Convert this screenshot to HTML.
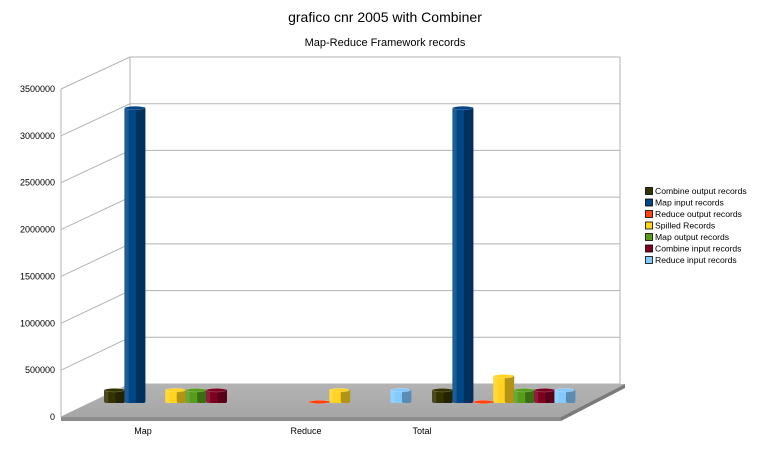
<!DOCTYPE html>
<html><head><meta charset="utf-8"><style>
body{margin:0;background:#fff;}
svg{display:block;font-family:"Liberation Sans",sans-serif;}
</style></head><body>
<svg id="chart" width="771" height="453" viewBox="0 0 771 453">
<defs>
<linearGradient id="floorG" x1="0" y1="0" x2="0" y2="1"><stop offset="0" stop-color="#b3b3b3"/><stop offset="1" stop-color="#a6a6a6"/></linearGradient>
</defs>
<text x="385" y="22" font-size="14" text-anchor="middle" fill="#000">grafico cnr 2005 with Combiner</text>
<text x="385" y="46" font-size="11" text-anchor="middle" fill="#000">Map-Reduce Framework records</text>
<g id="grid"></g>
<polygon points="61,417 130,384 625,384 561,417" fill="url(#floorG)"/>
<polygon points="61,417 561,417 561,421 61,421" fill="#8c8c8c"/>
<polygon points="561,417 625,384 625,388 561,421" fill="#7a7a7a"/>
<g id="ylabels"></g>
<g id="bars"></g>
<g id="xlabels"></g>
<g id="legend"></g>
</svg>
<script>
const categories = ["Map", "Reduce", "Total"];
const seriesNames = ["Combine output records","Map input records","Reduce output records","Spilled Records","Map output records","Combine input records","Reduce input records"];
const seriesColors = ["#333300","#004586","#ff420e","#ffd320","#579d1c","#7e0021","#83caff"];
const combineOutput = [150000, 0, 150000];
const mapInput = [3200000, 0, 3200000];
const reduceOutput = [0, 5000, 5000];
const spilled = [150000, 150000, 300000];
const mapOutput = [150000, 0, 150000];
const combineInput = [150000, 0, 150000];
const reduceInput = [0, 150000, 150000];
const yTicks = [0, 500000, 1000000, 1500000, 2000000, 2500000, 3000000, 3500000];

const series = [combineOutput, mapInput, reduceOutput, spilled, mapOutput, combineInput, reduceInput];
const NS = "http://www.w3.org/2000/svg";
function mk(tag, attrs, parent){const e=document.createElementNS(NS,tag);for(const k in attrs)e.setAttribute(k,attrs[k]);parent.appendChild(e);return e;}
const yMax = 3500000;
function yFront(v){return 417 - v/yMax*328;}
function yBack(v){return 384 - v/yMax*327;}
function barH(v){return v/1000000*92.5;}
function groupX(i){return 104 + i*164;}
const slot = 20.4, barW = 21, base = 403;

const grid = document.getElementById('grid');
mk('line',{x1:61,y1:yFront(yMax),x2:61,y2:417,stroke:'#b3b3b3'},grid);
mk('line',{x1:130,y1:57,x2:130,y2:384,stroke:'#b3b3b3'},grid);
mk('line',{x1:620,y1:57,x2:620,y2:384,stroke:'#b3b3b3'},grid);
const yl = document.getElementById('ylabels');
yTicks.forEach(v=>{
  const gl = mk('line',{x1:130,y1:yBack(v),x2:620,y2:yBack(v),stroke:'#b3b3b3'},grid);
  
  
  mk('line',{x1:61,y1:yFront(v),x2:130,y2:yBack(v),stroke:'#b3b3b3'},grid);
  const t = mk('text',{x:55,y:yFront(v)+3,'font-size':9,'text-anchor':'end',fill:'#000'},yl);
  
  
  t.textContent = v;
});

const bars = document.getElementById('bars');
series.forEach((vals,s)=>{
  vals.forEach((v,c)=>{
    if(v<=0) return;
    const h = Math.max(barH(v),2);
    const x = groupX(c) + s*slot;
    const top = base - h;
    const g = mk('g',{},bars);
    
    
    const col = seriesColors[s];
    mk('rect',{x:x,y:top,width:barW,height:h,rx:2,fill:col},g);
    mk('rect',{x:x+barW*0.55,y:top,width:barW*0.45,height:h,rx:2,fill:'#000','fill-opacity':0.3},g);
    mk('rect',{x:x,y:top,width:barW*0.2,height:h,fill:'#fff','fill-opacity':0.12},g);
    mk('ellipse',{cx:x+barW/2,cy:top+1,rx:barW/2-1,ry:1.8,fill:col,stroke:'#fff','stroke-opacity':0.3,'stroke-width':0.6},g);
  });
});

const xl = document.getElementById('xlabels');
categories.forEach((c,i)=>{
  const t = mk('text',{x:[143,306,422][i],y:434,'font-size':9,'text-anchor':'middle',fill:'#000'},xl);
  
  
  t.textContent = c;
});

const lg = document.getElementById('legend');
seriesNames.forEach((n,i)=>{
  const y = 191 + i*11.5;
  const g = mk('g',{},lg);
  
  
  mk('rect',{x:645.5,y:y-3.5,width:7,height:7,fill:seriesColors[i],stroke:'#000','stroke-width':0.8},g);
  const t = mk('text',{x:655,y:y+3,'font-size':8.6,fill:'#000'},g);
  t.textContent = n;
});
</script>
</body></html>
